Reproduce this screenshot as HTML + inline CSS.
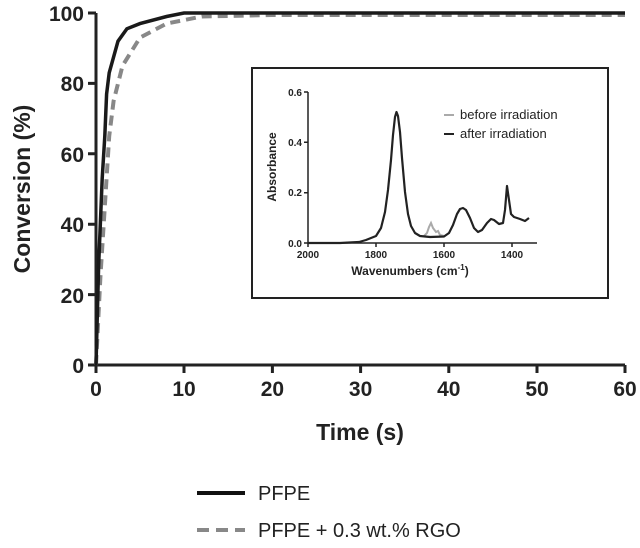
<!DOCTYPE html><html><head><style>body{margin:0;background:#fff}svg{display:block}text{font-family:"Liberation Sans",Arial,sans-serif;fill:#222}</style></head><body>
<svg width="640" height="548" viewBox="0 0 640 548">
<g stroke="#222" stroke-width="3" fill="none">
<path d="M96 13 V365 H625"/>
<path d="M88 13H96M88 83.4H96M88 153.8H96M88 224.2H96M88 294.6H96M88 365H96"/>
<path d="M96 365V373M184 365V373M272.4 365V373M360.6 365V373M448.8 365V373M537 365V373M625 365V373"/>
</g>
<g font-size="21" font-weight="bold" text-anchor="end">
<text x="84" y="21">100</text><text x="84" y="91">80</text><text x="84" y="162">60</text><text x="84" y="232">40</text><text x="84" y="303">20</text><text x="84" y="373">0</text>
</g>
<g font-size="21" font-weight="bold" text-anchor="middle">
<text x="96" y="396">0</text><text x="184" y="396">10</text><text x="272.4" y="396">20</text><text x="360.6" y="396">30</text><text x="448.8" y="396">40</text><text x="537" y="396">50</text><text x="625" y="396">60</text>
<text x="360" y="440" font-size="23">Time (s)</text>
<text transform="translate(30 189) rotate(-90)" font-size="23">Conversion (%)</text>
</g>
<polyline fill="none" stroke="#888" stroke-width="4" stroke-dasharray="10 6" points="96,365 100.4,277 104.8,206.6 109.2,136.2 113.6,101 122.5,65.8 140,37.6 166.6,23.6 201.8,16.5 272,15 625,15"/>
<polyline fill="none" stroke="#1a1a1a" stroke-width="3.5" points="96,365 98.6,266.4 102.2,178.4 104.8,136.2 106.6,94 109.2,72.8 118,41.2 126.9,28.8 140,23.6 166.6,16.5 184,13 625,13"/>
<rect x="252" y="68" width="356" height="230" fill="#fff" stroke="#222" stroke-width="2"/>
<g stroke="#222" stroke-width="1.5" fill="none">
<path d="M308 92V243H537"/>
<path d="M304 92H308M304 142.3H308M304 192.7H308M304 243H308M308 243V247M376 243V247M444 243V247M512 243V247"/>
</g>
<g font-size="10" font-weight="bold" text-anchor="end"><text x="302" y="96">0.6</text><text x="302" y="146">0.4</text><text x="302" y="196">0.2</text><text x="302" y="247">0.0</text></g>
<g font-size="10" font-weight="bold" text-anchor="middle"><text x="308" y="258">2000</text><text x="376" y="258">1800</text><text x="444" y="258">1600</text><text x="512" y="258">1400</text>
<text x="410" y="275" font-size="12">Wavenumbers (cm<tspan font-size="8" dy="-5">-1</tspan><tspan dy="5">)</tspan></text>
<text transform="translate(276 167) rotate(-90)" font-size="12">Absorbance</text></g>
<polyline fill="none" stroke="#aaa" stroke-width="2" points="424,236 427,233 429,227 431,223 433,228 436,232 438,231 440,235 444,236"/>
<polyline fill="none" stroke="#222" stroke-width="2.2" stroke-linejoin="round" points="308,243 340,243 359,242 366,240 376,236 381,228 385,212 388,190 391,160 393,135 395,117 396.5,112 398,116 400,132 402,158 405,192 408,214 411,226 415,233 420,236 430,237 444,236.5 449,233 453,225 457,214 460,209 463,208 466,210 470,218 474,228 478,232 482,230 487,223 491,219 494,220 499,224 503,223 505,210 507,186 509,200 511,214 514,217 520,219 525,221 529,218"/>
<path d="M444 115H454" stroke="#aaa" stroke-width="2"/><path d="M444 134H454" stroke="#222" stroke-width="2"/>
<text x="460" y="119" font-size="13">before irradiation</text><text x="460" y="138" font-size="13">after irradiation</text>
<path d="M197 493H245" stroke="#111" stroke-width="4"/>
<path d="M197 530H245" stroke="#888" stroke-width="4" stroke-dasharray="12 7"/>
<text x="258" y="500" font-size="20">PFPE</text>
<text x="258" y="537" font-size="20">PFPE + 0.3 wt.% RGO</text>
</svg></body></html>
